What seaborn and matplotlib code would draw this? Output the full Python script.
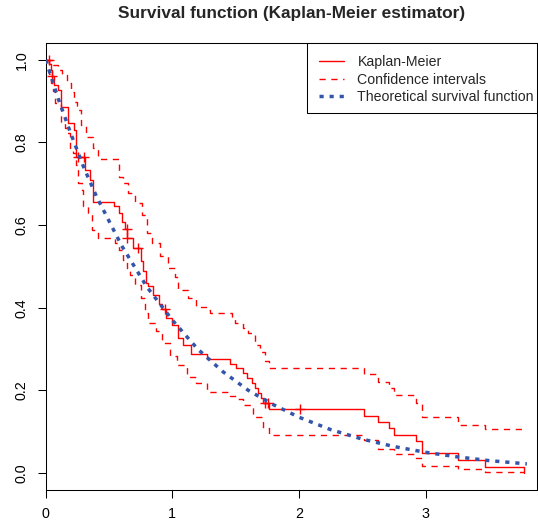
import matplotlib
matplotlib.use("Agg")
import matplotlib.pyplot as plt
from matplotlib.patches import Rectangle
import seaborn as sns
import pandas as pd

# Kaplan-Meier step curve (time, survival after the drop)
km_time = [0, 0.03, 0.04, 0.05, 0.065, 0.095, 0.12, 0.18, 0.226, 0.239, 0.31, 0.35, 0.376,
           0.539, 0.578, 0.60, 0.625, 0.645, 0.69, 0.75, 0.77, 0.79, 0.81, 0.85, 0.897, 0.92,
           0.95, 0.994, 1.047, 1.086, 1.144, 1.276, 1.455, 1.502, 1.555, 1.586, 1.626, 1.652,
           1.678, 1.697, 1.718, 1.765, 2.515, 2.625, 2.712, 2.749, 2.928, 2.975, 3.257, 3.467, 3.775]
km_surv = [1.0, 0.99, 0.975, 0.96, 0.94, 0.927, 0.887, 0.848, 0.83, 0.766, 0.734, 0.71, 0.657,
           0.645, 0.63, 0.607, 0.59, 0.569, 0.545, 0.512, 0.49, 0.46, 0.453, 0.431, 0.41, 0.397,
           0.375, 0.358, 0.327, 0.31, 0.288, 0.276, 0.264, 0.254, 0.242, 0.23, 0.218, 0.206,
           0.193, 0.181, 0.169, 0.154, 0.138, 0.123, 0.108, 0.092, 0.0775, 0.048, 0.031, 0.015, 0.0]

# censored observations
cens_time = [0.025, 0.05, 0.254, 0.30, 0.64, 0.645, 0.73, 0.94, 1.735, 1.755, 2.007]
cens_surv = [1.0, 0.96, 0.766, 0.766, 0.59, 0.569, 0.545, 0.397, 0.169, 0.169, 0.154]

# confidence band
up_time = [0, 0.06, 0.10, 0.13, 0.17, 0.20, 0.225, 0.25, 0.28, 0.32, 0.37, 0.415, 0.581, 0.613,
           0.652, 0.705, 0.758, 0.797, 0.837, 0.902, 0.968, 1.02, 1.047, 1.125, 1.19, 1.27, 1.297,
           1.47, 1.494, 1.56, 1.60, 1.652, 1.69, 1.73, 1.765, 2.515, 2.625, 2.712, 2.749, 2.928,
           2.975, 3.257, 3.467, 3.775]
up_surv = [1.0, 0.988, 0.976, 0.964, 0.943, 0.923, 0.899, 0.879, 0.843, 0.814, 0.786, 0.76, 0.717,
           0.701, 0.677, 0.654, 0.625, 0.581, 0.556, 0.524, 0.496, 0.475, 0.443, 0.423, 0.401,
           0.395, 0.387, 0.378, 0.362, 0.35, 0.338, 0.31, 0.294, 0.27, 0.253, 0.239, 0.221, 0.205,
           0.189, 0.17, 0.135, 0.116, 0.106, 0.106]
lo_time = [0, 0.03, 0.045, 0.06, 0.073, 0.12, 0.152, 0.166, 0.19, 0.218, 0.239, 0.258, 0.284,
           0.297, 0.337, 0.363, 0.415, 0.547, 0.58, 0.61, 0.64, 0.665, 0.705, 0.752, 0.784, 0.81,
           0.87, 0.915, 0.98, 1.034, 1.113, 1.19, 1.27, 1.455, 1.502, 1.56, 1.64, 1.72, 1.765,
           2.515, 2.625, 2.749, 2.928, 2.975, 3.257, 3.467, 3.775]
lo_surv = [1.0, 0.965, 0.945, 0.925, 0.895, 0.85, 0.835, 0.823, 0.782, 0.775, 0.746, 0.702, 0.685,
           0.645, 0.629, 0.588, 0.568, 0.556, 0.54, 0.515, 0.496, 0.479, 0.455, 0.424, 0.387,
           0.362, 0.344, 0.314, 0.283, 0.261, 0.232, 0.217, 0.195, 0.187, 0.178, 0.165, 0.136,
           0.109, 0.093, 0.08, 0.058, 0.045, 0.036, 0.017, 0.009, 0.003, 0.003]

# theoretical survival curve
theo_time = [0, 0.1, 0.2, 0.3, 0.4, 0.6, 0.8, 1.0, 1.2, 1.4, 1.6, 1.8, 2.0, 2.25, 2.5, 2.75,
             3.0, 3.25, 3.5, 3.8]
theo_surv = [1.0, 0.905, 0.82, 0.74, 0.67, 0.55, 0.45, 0.37, 0.30, 0.245, 0.2, 0.165, 0.135,
             0.105, 0.082, 0.064, 0.05, 0.039, 0.03, 0.022]

sns.set_style("ticks")
plt.rcParams['font.family'] = ['Liberation Sans', 'DejaVu Sans']

fig = plt.figure(figsize=(5.38, 5.29), dpi=100)
W, H = 538, 529
ax = fig.add_axes([45.7 / W, 1 - 489.5 / H, (537 - 45.7) / W, (489.5 - 43.3) / H])

km = pd.DataFrame({'t': km_time, 's': km_surv})
sns.lineplot(data=km, x='t', y='s', drawstyle='steps-post', color='red', lw=1.0,
             estimator=None, sort=False, label='Kaplan-Meier', ax=ax)

up = pd.DataFrame({'t': up_time, 's': up_surv})
lo = pd.DataFrame({'t': lo_time, 's': lo_surv})
sns.lineplot(data=up, x='t', y='s', drawstyle='steps-post', color='red', lw=1.0,
             linestyle=(0, (4.5, 4)), estimator=None, sort=False,
             label='Confidence intervals', ax=ax)
sns.lineplot(data=lo, x='t', y='s', drawstyle='steps-post', color='red', lw=1.0,
             linestyle=(0, (4.5, 4)), estimator=None, sort=False, ax=ax)

sns.scatterplot(x=cens_time, y=cens_surv, marker='+', s=55, color='red', linewidth=1.0,
                legend=False, ax=ax, zorder=3)

sns.lineplot(x=theo_time, y=theo_surv, color='#3355aa', lw=2.5,
             linestyle=(0, (1.2, 1.7)), estimator=None, sort=False,
             label='Theoretical survival function', ax=ax, zorder=4)

ax.set_xlim(0, 3.88)
ax.set_ylim(-0.04, 1.04)
ax.set_xticks([0, 1, 2, 3])
ax.set_xticklabels(['0', '1', '2', '3'])
ax.set_yticks([0, 0.2, 0.4, 0.6, 0.8, 1.0])
ax.set_yticklabels(['0.0', '0.2', '0.4', '0.6', '0.8', '1.0'], rotation=90, va='center')
ax.set_xlabel('')
ax.set_ylabel('')
ax.tick_params(length=5.8, width=0.75, pad=6.5, labelsize=10.3, colors='black')
for sp in ax.spines.values():
    sp.set_color('black')
    sp.set_linewidth(0.75)

ax.set_title('Survival function (Kaplan-Meier estimator)', fontsize=12.4,
             fontweight='bold', pad=18.5)

# legend box like R's topright legend
box = Rectangle((306.7 / W, 1 - 113.3 / H), (537 - 306.7) / W, (113.3 - 43.3) / H,
                transform=fig.transFigure, facecolor='white', edgecolor='black',
                linewidth=0.75, zorder=6, clip_on=False)
ax.add_patch(box)
leg = ax.legend(loc='upper left', bbox_to_anchor=(319 / W, 1 - 54.8 / H),
                bbox_transform=fig.transFigure, frameon=False, borderaxespad=0,
                borderpad=0, fontsize=10.17, handlelength=1.8, handletextpad=0.92,
                labelspacing=0.27)
leg.set_zorder(7)

fig.savefig('out.png', dpi=100)
